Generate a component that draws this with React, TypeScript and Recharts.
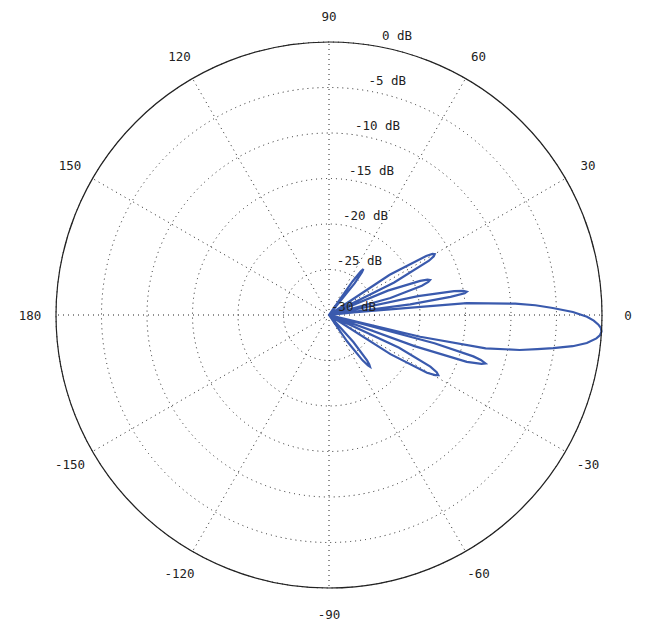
import React from 'react';
import { RadarChart, Radar, PolarGrid, PolarAngleAxis, PolarRadiusAxis } from 'recharts';

// Antenna pattern: angle (degrees) and gain (dB), floor at -30 dB
const patternAngles = [
  -180, -62, -58, -55.5, -53.5, -52.3, -51.6, -50.8, -50, -48, -45,
  -35, -32.5, -30.5, -29.5, -28.8, -28, -27, -25, -23,
  -21.5, -20, -18.8, -17.8, -17.2, -16.5, -16, -15, -14.2,
  -13.4, -12, -10.4, -9.3, -8.4, -7.3, -6.2, -5, -4.3, -3.5, -2.7, -2, -1.2, -0.4, 0.7, 1.8, 2.7, 3.5, 4.9, 6, 6.5,
  7.5, 8.5, 9.1, 9.6, 10.2, 10.8, 12, 13.5,
  15.5, 17.5, 18.4, 19.1, 19.8, 20.5, 22.5, 24.5,
  26.5, 28.5, 29.3, 29.9, 30.6, 31.3, 33.5, 36,
  48, 51, 52.3, 53.1, 53.9, 55, 58, 180,
];
const patternGainDb = [
  -30, -30, -30, -26.5, -23.8, -23.0, -22.75, -23.0, -23.5, -26, -30,
  -30, -22, -17.5, -16.6, -16.3, -16.6, -17.5, -21.5, -30,
  -30, -20, -14, -12.4, -12, -12.6, -13.5, -18, -30,
  -19.7, -12.4, -8.7, -6.8, -5.1, -3.0, -1.5, -0.5, -0.15, 0, -0.1, -0.4, -0.9, -1.65, -3.2, -5.4, -7.3, -9.5, -14.8, -27, -30,
  -21, -16.5, -14.9, -14.65, -15, -16, -20, -30,
  -23, -19.3, -18.5, -18.25, -18.5, -19.3, -23, -30,
  -22, -17.5, -16.8, -16.6, -16.8, -17.5, -22, -30,
  -30, -25.5, -24.1, -23.7, -24.1, -25.5, -30, -30,
];

const angleTicks = [-150, -120, -90, -60, -30, 0, 30, 60, 90, 120, 150, 180];
const radiusTicks = [-30, -25, -20, -15, -10, -5, 0];

const data = patternAngles.map((a, i) => ({ angle: a, gain: patternGainDb[i] }));

const FONT = '"DejaVu Sans Mono", "Liberation Mono", monospace';

const AngleTick = (props: any) => {
  const { x, y, payload } = props;
  return (
    <text x={x} y={y} textAnchor="middle" dominantBaseline="central" fontFamily={FONT} fontSize={12.5} fill="#222">
      {String(payload.value)}
    </text>
  );
};

const RadiusTick = (props: any) => {
  const { x, y, payload } = props;
  return (
    <text x={x + 47} y={y - 9} textAnchor="end" dominantBaseline="central" fontFamily={FONT} fontSize={12.5} fill="#222">
      {`${payload.value} dB`}
    </text>
  );
};

export default function App() {
  return (
    <RadarChart
      width={636}
      height={615}
      data={data}
      cx={321}
      cy={307}
      innerRadius={0}
      outerRadius={273}
      startAngle={-180}
      endAngle={180}
      margin={{ top: 0, right: 0, bottom: 0, left: 0 }}
    >
      <PolarGrid gridType="circle" stroke="#222" strokeDasharray="1 4" />
      <PolarAngleAxis
        dataKey="angle"
        type="number"
        domain={[-180, 180]}
        ticks={angleTicks}
        tick={<AngleTick />}
        tickLine={false}
        tickSize={26}
        axisLine={{ stroke: '#222', strokeWidth: 1.2 }}
        axisLineType="circle"
      />
      <PolarRadiusAxis
        type="number"
        domain={[-30, 0]}
        ticks={radiusTicks}
        angle={82.4}
        axisLine={false}
        tickLine={false}
        tick={<RadiusTick />}
      />
      <Radar
        dataKey="gain"
        stroke="#3a5aad"
        strokeWidth={2.2}
        fill="none"
        fillOpacity={0}
        isAnimationActive={false}
        dot={false}
      />
    </RadarChart>
  );
}
